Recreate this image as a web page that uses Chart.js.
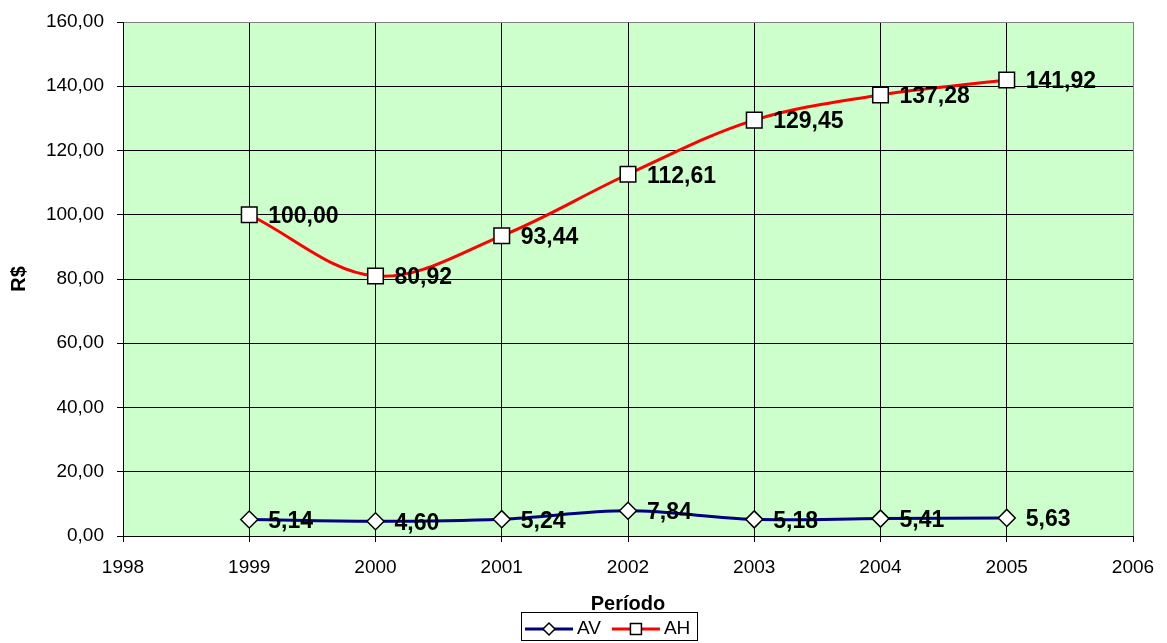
<!DOCTYPE html>
<html>
<head>
<meta charset="utf-8">
<title>AV / AH por período</title>
<script src="https://cdn.jsdelivr.net/npm/chart.js@4/dist/chart.umd.min.js"></script>
<style>
  html, body { margin: 0; padding: 0; background: #ffffff; }
  #wrap { width: 1167px; height: 643px; position: relative; }
</style>
</head>
<body>
<div id="wrap"><canvas id="chart" width="1167" height="643"></canvas></div>
<script>
// Períodos (anos) e séries
const years = [1999, 2000, 2001, 2002, 2003, 2004, 2005];
const avValues = [5.14, 4.60, 5.24, 7.84, 5.18, 5.41, 5.63];
const ahValues = [100.00, 80.92, 93.44, 112.61, 129.45, 137.28, 141.92];

// Eixos
const xMin = 1998, xMax = 2006, xStep = 1;
const yMin = 0, yMax = 160, yStep = 20;

const AV_COLOR = '#000080';
const AH_COLOR = '#ff0000';
const FONT = 'Arial, "Liberation Sans", sans-serif';

const fmt = v => v.toFixed(2).replace('.', ',');

// Rótulos de valor à direita de cada ponto
const valueLabels = {
  id: 'valueLabels',
  afterDatasetsDraw(chart) {
    const ctx = chart.ctx;
    ctx.save();
    ctx.font = 'bold 23px ' + FONT;
    ctx.fillStyle = '#000';
    ctx.textAlign = 'left';
    ctx.textBaseline = 'middle';
    chart.data.datasets.forEach((ds, i) => {
      const meta = chart.getDatasetMeta(i);
      meta.data.forEach((pt, j) => {
        ctx.fillText(fmt(ds.data[j].y), pt.x + 19, pt.y + 2);
      });
    });
    ctx.restore();
  }
};

// Fundo da área de plotagem
const plotFrame = {
  id: 'plotFrame',
  beforeDraw(chart) {
    const a = chart.chartArea, ctx = chart.ctx;
    ctx.save();
    ctx.fillStyle = '#ccffcc';
    ctx.fillRect(a.left, a.top, a.right - a.left, a.bottom - a.top);
    ctx.restore();
  }
};

// Legenda com amostra de linha e marcador, dentro de uma caixa
const boxLegend = {
  id: 'boxLegend',
  afterDraw(chart) {
    const ctx = chart.ctx;
    const items = chart.data.datasets;
    const boxLeft = 521, boxTop = 612, boxW = 176, boxH = 28;
    ctx.save();
    ctx.strokeStyle = '#000';
    ctx.lineWidth = 1;
    ctx.strokeRect(boxLeft + 0.5, boxTop + 0.5, boxW, boxH);
    ctx.font = '19px ' + FONT;
    ctx.textBaseline = 'middle';
    ctx.fillStyle = '#000';
    let x = boxLeft + 4;
    const cy = boxTop + 17;
    items.forEach(ds => {
      ctx.strokeStyle = ds.borderColor;
      ctx.lineWidth = 3;
      ctx.beginPath();
      ctx.moveTo(x, cy);
      ctx.lineTo(x + 48, cy);
      ctx.stroke();
      const mx = x + 24;
      ctx.fillStyle = '#fff';
      ctx.strokeStyle = '#000';
      ctx.lineWidth = 1.5;
      ctx.beginPath();
      if (ds.pointStyle === 'rectRot') {
        ctx.moveTo(mx, cy - 6); ctx.lineTo(mx + 6, cy); ctx.lineTo(mx, cy + 6); ctx.lineTo(mx - 6, cy); ctx.closePath();
      } else {
        ctx.rect(mx - 5.5, cy - 5.5, 11, 11);
      }
      ctx.fill(); ctx.stroke();
      ctx.fillStyle = '#000';
      ctx.fillText(ds.label, x + 52, cy);
      x += 52 + ctx.measureText(ds.label).width + 11;
    });
    ctx.restore();
  }
};

const toPoints = vals => vals.map((v, i) => ({ x: years[i], y: v }));

new Chart(document.getElementById('chart'), {
  type: 'line',
  data: {
    datasets: [
      {
        label: 'AV',
        data: toPoints(avValues),
        borderColor: AV_COLOR,
        borderWidth: 3,
        tension: 0.35,
        pointStyle: 'rectRot',
        pointRadius: 8.5,
        pointBackgroundColor: '#ffffff',
        pointBorderColor: '#000000',
        pointBorderWidth: 1.5,
        fill: false
      },
      {
        label: 'AH',
        data: toPoints(ahValues),
        borderColor: AH_COLOR,
        borderWidth: 3,
        tension: 0.35,
        pointStyle: 'rect',
        pointRadius: 11,
        pointBackgroundColor: '#ffffff',
        pointBorderColor: '#000000',
        pointBorderWidth: 1.5,
        fill: false
      }
    ]
  },
  options: {
    responsive: false,
    animation: false,
    events: [],
    layout: { padding: { top: 22, right: 34, bottom: 31, left: 0 } },
    plugins: {
      legend: { display: false },
      tooltip: { enabled: false }
    },
    scales: {
      x: {
        type: 'linear',
        min: xMin, max: xMax,
        afterFit(scale) {
          scale.height = 76;
          scale.paddingLeft = 0;
          scale.paddingRight = 0;
        },
        ticks: {
          stepSize: xStep,
          color: '#000',
          font: { family: FONT, size: 19 },
          padding: 14,
          callback: v => String(v),
          maxRotation: 0
        },
        grid: {
          color: ctx => (ctx.tick && ctx.tick.value === xMax) ? '#808080' : '#000',
          lineWidth: 1,
          tickLength: 6,
          tickColor: '#000'
        },
        border: { color: '#000', width: 1 },
        title: {
          display: true,
          text: 'Período',
          color: '#000',
          font: { family: FONT, size: 20, weight: 'bold', lineHeight: 1 },
          padding: { top: 0, bottom: -2 }
        }
      },
      y: {
        min: yMin, max: yMax,
        afterFit(scale) {
          scale.width = 123;
          scale.paddingTop = 0;
          scale.paddingBottom = 0;
        },
        ticks: {
          stepSize: yStep,
          color: '#000',
          font: { family: FONT, size: 19 },
          padding: 13,
          callback: v => fmt(v)
        },
        grid: {
          color: ctx => (ctx.tick && ctx.tick.value === yMax) ? '#808080' : '#000',
          lineWidth: 1,
          tickLength: 6,
          tickColor: '#000'
        },
        border: { color: '#000', width: 1 },
        title: {
          display: true,
          text: 'R$',
          color: '#000',
          font: { family: FONT, size: 20, weight: 'bold' },
          padding: { top: 7, bottom: 0 }
        }
      }
    }
  },
  plugins: [plotFrame, valueLabels, boxLegend]
});
</script>
</body>
</html>
